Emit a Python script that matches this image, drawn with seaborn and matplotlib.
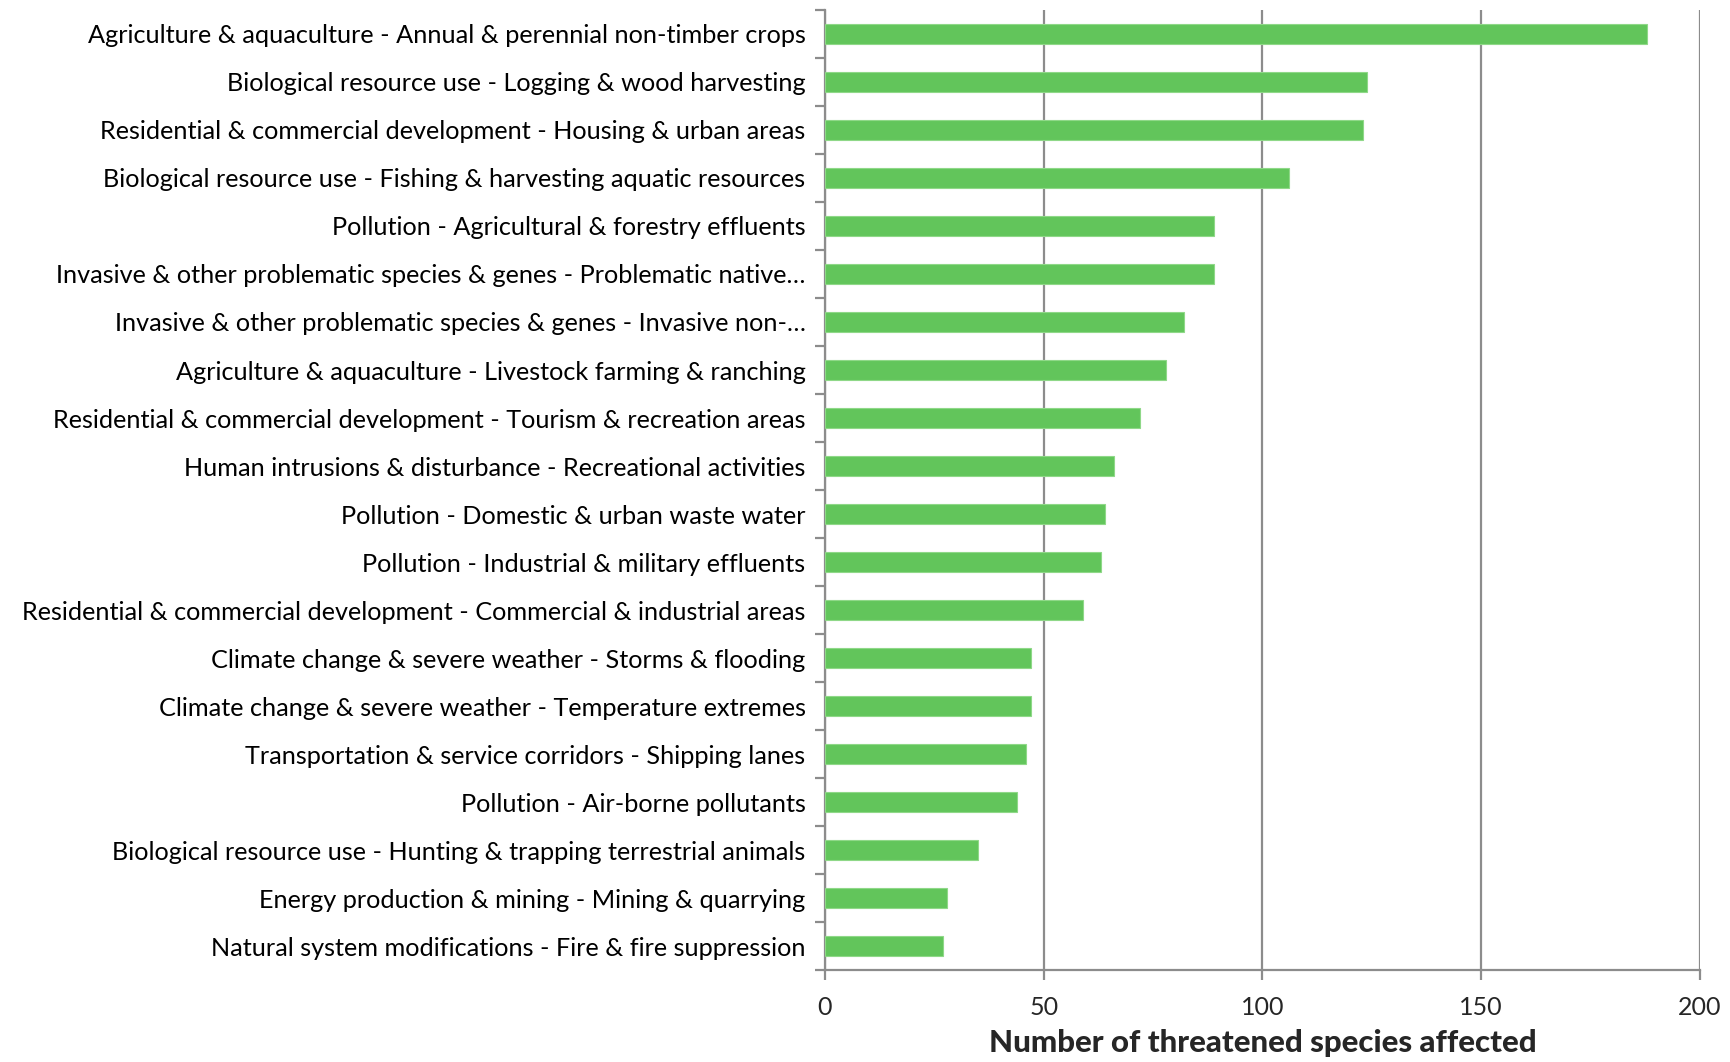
import matplotlib.pyplot as plt
import seaborn as sns
import pandas as pd
import numpy as np

threats = [
    'Agriculture & aquaculture - Annual & perennial non-timber crops',
    'Biological resource use - Logging & wood harvesting',
    'Residential & commercial development - Housing & urban areas',
    'Biological resource use - Fishing & harvesting aquatic resources',
    'Pollution - Agricultural & forestry effluents',
    'Invasive & other problematic species & genes - Problematic native…',
    'Invasive & other problematic species & genes - Invasive non-…',
    'Agriculture & aquaculture - Livestock farming & ranching',
    'Residential & commercial development - Tourism & recreation areas',
    'Human intrusions & disturbance - Recreational activities',
    'Pollution - Domestic & urban waste water',
    'Pollution - Industrial & military effluents',
    'Residential & commercial development - Commercial & industrial areas',
    'Climate change & severe weather - Storms & flooding',
    'Climate change & severe weather - Temperature extremes',
    'Transportation & service corridors - Shipping lanes',
    'Pollution - Air-borne pollutants',
    'Biological resource use - Hunting & trapping terrestrial animals',
    'Energy production & mining - Mining & quarrying',
    'Natural system modifications - Fire & fire suppression',
]
species_count = [188, 124, 123, 106, 89, 89, 82, 78, 72, 66,
                 64, 63, 59, 47, 47, 46, 44, 35, 28, 27]

df = pd.DataFrame({'threat': threats, 'count': species_count})

sns.set_style('white')
plt.rcParams['font.family'] = ['Lato', 'DejaVu Sans']

fig, ax = plt.subplots(figsize=(17.31, 10.62), dpi=100)
fig.subplots_adjust(left=0.4766, right=0.982, top=0.9906, bottom=0.0866)

sns.barplot(data=df, y='threat', x='count', color='#62C55B', width=0.4,
            edgecolor='#8FD888', linewidth=0.8, saturation=1, ax=ax, zorder=3)

ax.set_xlim(0, 200)
ax.set_ylim(len(threats) - 0.5, -0.5)
ax.set_xticks([0, 50, 100, 150, 200])
ax.xaxis.grid(True, color='#8C8C8C', linewidth=1.6, zorder=0)
ax.yaxis.grid(False)

for side in ['top', 'right']:
    ax.spines[side].set_visible(False)
for side in ['left', 'bottom']:
    ax.spines[side].set_color('#8C8C8C')
    ax.spines[side].set_linewidth(1.6)

ax.set_yticks(np.arange(-0.5, len(threats) + 0.5, 1), minor=True)
ax.tick_params(axis='y', which='major', left=True, length=0, pad=14,
               labelsize=18.2, labelcolor='black')
ax.tick_params(axis='y', which='minor', left=True, length=7, width=1.6,
               color='#8C8C8C', direction='out')
ax.tick_params(axis='x', which='major', bottom=True, length=7, width=1.6,
               color='#8C8C8C', direction='out', labelsize=18, pad=12)

ax.set_ylabel('')
ax.set_xlabel('Number of threatened species affected', fontsize=22.5,
              fontweight='black', labelpad=7)

plt.savefig('out.png', dpi=100)
